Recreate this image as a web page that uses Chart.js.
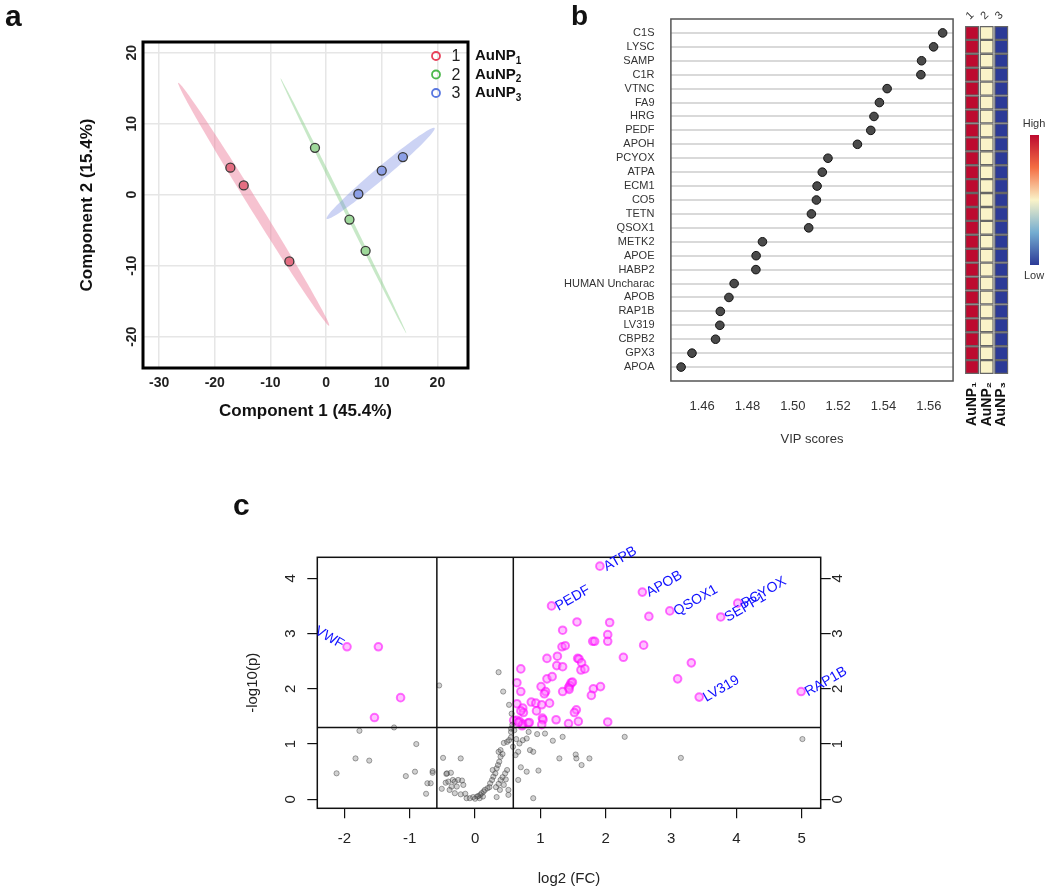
<!DOCTYPE html>
<html>
<head>
<meta charset="utf-8">
<script src="https://cdn.jsdelivr.net/npm/chart.js@4"></script>
<style>
  body { margin: 0; background: #fff; width: 1050px; height: 895px; position: relative; overflow: hidden;
         font-family: 'Liberation Sans', Arial, sans-serif; }
  canvas { position: absolute; }
  .bar { position: absolute; left: 1030px; top: 135px; width: 9px; height: 130px;
         background: linear-gradient(to bottom, #BD0A2F, #F46D43 25%, #FAF3C8 50%, #74ADD1 75%, #2C3A97); }
  .barlab { position: absolute; left: 1014px; width: 40px; text-align: center; font-size: 11px; color: #333; }
</style>
</head>
<body>
<canvas id="pca" width="560" height="450" style="left:0;top:0"></canvas>
<canvas id="vip" width="480" height="470" style="left:480px;top:0"></canvas>
<canvas id="heat" width="110" height="470" style="left:940px;top:0"></canvas>
<canvas id="volcano" width="640" height="405" style="left:230px;top:490px"></canvas>
<div class="barlab" style="top:117px">High</div>
<div class="bar"></div>
<div class="barlab" style="top:269px">Low</div>
<script>
// ---- datos panel a (PLS-DA) ----
const pcaGroups = ['1', '2', '3'];
const pcaNames = ['AuNP', 'AuNP', 'AuNP'];
const comp1G1 = [-17.2, -14.8, -6.6];
const comp2G1 = [3.8, 1.3, -9.4];
const comp1G2 = [-2.0, 4.2, 7.1];
const comp2G2 = [6.6, -3.5, -7.9];
const comp1G3 = [5.8, 10.0, 13.8];
const comp2G3 = [0.1, 3.4, 5.3];
const pcaXTicks = [-30, -20, -10, 0, 10, 20];
const pcaYTicks = [-20, -10, 0, 10, 20];
// elipses: centro, semieje mayor y semieje menor (unidades de datos)
const ellipseCx = [-13.0, 3.1, 9.8];
const ellipseCy = [-1.35, -1.55, 3.0];
const ellipseAx = [13.55, 11.3, 9.7];
const ellipseAy = [-17.1, -17.95, 6.4];
const ellipseBx = [0.77, 0.29, 0.69];
const ellipseBy = [0.37, 0.11, -0.65];

// ---- datos panel b (VIP) ----
const vipProteins = ['C1S', 'LYSC', 'SAMP', 'C1R', 'VTNC', 'FA9', 'HRG', 'PEDF', 'APOH', 'PCYOX', 'ATPA', 'ECM1', 'CO5',
  'TETN', 'QSOX1', 'METK2', 'APOE', 'HABP2', 'HUMAN Uncharac', 'APOB', 'RAP1B', 'LV319', 'CBPB2', 'GPX3', 'APOA'];
const vipScores = [1.5661, 1.5621, 1.5568, 1.5565, 1.5416, 1.5382, 1.5358, 1.5344, 1.5285, 1.5155, 1.5130, 1.5107, 1.5104,
  1.5082, 1.5070, 1.4866, 1.4838, 1.4837, 1.4741, 1.4718, 1.4680, 1.4678, 1.4659, 1.4555, 1.4507];
const vipTicks = [1.46, 1.48, 1.50, 1.52, 1.54, 1.56];
const heatGroups = ['AuNP\u2081', 'AuNP\u2082', 'AuNP\u2083'];
const heatAuNP1 = [1, 1, 1, 1, 1, 1, 1, 1, 1, 1, 1, 1, 1, 1, 1, 1, 1, 1, 1, 1, 1, 1, 1, 1, 1];
const heatAuNP2 = [0.5, 0.5, 0.5, 0.5, 0.5, 0.5, 0.5, 0.5, 0.5, 0.5, 0.5, 0.5, 0.5, 0.5, 0.5, 0.5, 0.5, 0.5, 0.5, 0.5, 0.5, 0.5, 0.5, 0.5, 0.5];
const heatAuNP3 = [0, 0, 0, 0, 0, 0, 0, 0, 0, 0, 0, 0, 0, 0, 0, 0, 0, 0, 0, 0, 0, 0, 0, 0, 0];

// ---- datos panel c (volcano) ----
const fcTicks = [-2, -1, 0, 1, 2, 3, 4, 5];
const pTicks = [0, 1, 2, 3, 4];
const fcCut = [-0.585, 0.585];
const pCut = 1.3;
const sigX = [-1.96, -1.48, -1.14, -1.54, 1.91, 1.17, 2.56, 2.98, 3.76, 4.02, 3.43, 4.99,
  2.66, 1.56, 2.06, 1.34, 2.03, 1.80, 1.83, 2.03, 1.33, 1.38, 2.58, 1.26, 1.10, 1.57, 1.59, 1.63,
  2.27, 3.31, 0.70, 1.25, 1.34, 1.62, 1.68, 1.10, 1.18, 3.10, 0.64, 1.47, 1.45, 1.49, 1.43, 1.44, 1.01,
  1.08, 1.06, 0.70, 1.34, 1.81, 1.92, 1.78, 0.64, 0.73, 0.74, 0.70, 0.86, 0.93, 1.02, 1.14, 0.94,
  1.55, 1.52, 0.59, 0.64, 0.68, 0.72, 0.73, 0.81, 0.83, 1.03, 1.04, 1.24, 1.43, 1.58, 2.03, 1.02, 0.66];
const sigY = [2.76, 2.76, 1.84, 1.48, 4.22, 3.50, 3.75, 3.41, 3.30, 3.55, 1.85, 1.95,
  3.31, 3.21, 3.20, 3.06, 2.98, 2.86, 2.86, 2.86, 2.76, 2.78, 2.79, 2.59, 2.55, 2.55, 2.54, 2.47,
  2.57, 2.47, 2.36, 2.42, 2.40, 2.34, 2.36, 2.18, 2.22, 2.18, 2.11, 2.11, 2.06, 2.12, 2.02, 1.99, 2.04,
  1.95, 1.91, 1.95, 1.95, 2.00, 2.04, 1.88, 1.73, 1.65, 1.57, 1.60, 1.76, 1.74, 1.71, 1.74, 1.60,
  1.62, 1.57, 1.43, 1.43, 1.41, 1.33, 1.36, 1.38, 1.39, 1.47, 1.44, 1.44, 1.37, 1.41, 1.40, 1.35, 1.39];
const sigLabels = ['VWF', '', '', '', 'ATPB', 'PEDF', 'APOB', 'QSOX1', 'SEPP1', 'PCYOX', 'LV319', 'RAP1B'];
const greyX = [-1.77, -1.24, -0.90, -1.83, -1.62, -2.12, -0.92, -1.06, -0.65, -0.65,
  -0.49, -0.73, -0.68, -0.75, -0.44, -0.45, -0.51, -0.55, 0.36, 0.43,
  0.52, -0.22, -0.43, -0.37, -0.41, -0.34, -0.31, -0.26, -0.20, -0.18,
  -0.28, -0.36, -0.39, -0.31, -0.22, -0.15, -0.13, -0.08, -0.03, 0.03,
  0.05, 0.08, 0.10, 0.13, 0.12, 0.07, 0.00, 0.15, 0.19, 0.22,
  0.23, 0.26, 0.28, 0.31, 0.27, 0.33, 0.35, 0.37, 0.39, 0.36,
  0.39, 0.42, 0.44, 0.49, 0.52, 0.55, 0.55, 0.49, 0.51, 0.51,
  0.33, 0.46, 0.42, 0.39, 0.36, 0.47, 0.44, 0.38, 0.32, 0.63,
  0.68, 0.73, 0.79, 0.82, 0.84, 0.89, 0.95, 1.07, 0.66, 0.70,
  0.66, 0.79, 0.97, 0.89, 1.19, 1.29, 1.34, 2.29, 5.01, 1.54,
  1.55, 1.75, 1.63, 3.15, 0.56, 0.57, 0.55, 0.60, 0.58, 0.62];
const greyY = [1.24, 1.30, 1.00, 0.74, 0.70, 0.47, 0.50, 0.42, 0.51, 0.48,
  0.75, 0.29, 0.29, 0.10, 0.46, 0.30, 0.19, 2.06, 2.30, 1.95,
  1.71, 0.74, 0.47, 0.48, 0.32, 0.35, 0.32, 0.35, 0.34, 0.26,
  0.23, 0.23, 0.17, 0.11, 0.09, 0.10, 0.02, 0.02, 0.04, 0.05,
  0.06, 0.08, 0.11, 0.14, 0.05, 0.02, 0.01, 0.17, 0.20, 0.22,
  0.29, 0.35, 0.41, 0.47, 0.53, 0.56, 0.62, 0.68, 0.77, 0.86,
  0.89, 0.82, 1.02, 1.04, 1.07, 1.22, 1.12, 0.53, 0.17, 0.08,
  0.04, 0.47, 0.40, 0.35, 0.28, 0.36, 0.26, 0.17, 0.22, 1.09,
  1.01, 1.07, 1.10, 1.22, 0.89, 0.86, 1.18, 1.19, 0.86, 0.58,
  0.35, 0.50, 0.52, 0.02, 1.06, 0.74, 1.13, 1.13, 1.09, 0.81,
  0.74, 0.74, 0.62, 0.75, 1.55, 1.35, 1.28, 1.25, 0.95, 0.80];

const FONT = "'Liberation Sans', Arial, sans-serif";
Chart.defaults.font.family = FONT;
Chart.defaults.color = '#222';
Chart.defaults.animation = false;
Chart.defaults.plugins.legend.display = false;
Chart.defaults.plugins.tooltip.enabled = false;

const fixWidth = (w) => (s) => { s.width = w; };
const fixHeight = (h) => (s) => { s.height = h; };
const setTicks = (vals) => (s) => { s.ticks = vals.map((v) => ({ value: v })); };

function panelTag(letter, x, y, size) {
  return {
    id: 'tag' + letter,
    afterDraw(chart) {
      const c = chart.ctx;
      c.save();
      c.font = `bold ${size}px ${FONT}`;
      c.fillStyle = '#111';
      c.fillText(letter, x, y);
      c.restore();
    },
  };
}

function boxPlugin(color, width) {
  return {
    id: 'box',
    afterDraw(chart) {
      const { ctx, chartArea: a } = chart;
      ctx.save();
      ctx.strokeStyle = color;
      ctx.lineWidth = width;
      ctx.strokeRect(a.left, a.top, a.right - a.left, a.bottom - a.top);
      ctx.restore();
    },
  };
}

// ---- Panel a ----
const pcaFill = ['#E46E82', '#9ED89A', '#8C9FE6'];
const pcaEdge = ['#E8405A', '#4CB84C', '#5A78E0'];
const pcaBand = ['rgba(236,120,150,0.45)', 'rgba(130,205,130,0.45)', 'rgba(120,140,225,0.38)'];
const comp1 = [comp1G1, comp1G2, comp1G3];
const comp2 = [comp2G1, comp2G2, comp2G3];

const ellipsePlugin = {
  id: 'ellipses',
  beforeDatasetsDraw(chart) {
    const { ctx, scales: { x, y } } = chart;
    ctx.save();
    ellipseCx.forEach((cx, i) => {
      ctx.beginPath();
      for (let k = 0; k <= 90; k++) {
        const t = (k / 90) * Math.PI * 2;
        const vx = cx + ellipseAx[i] * Math.cos(t) + ellipseBx[i] * Math.sin(t);
        const vy = ellipseCy[i] + ellipseAy[i] * Math.cos(t) + ellipseBy[i] * Math.sin(t);
        const px = x.getPixelForValue(vx);
        const py = y.getPixelForValue(vy);
        if (k === 0) ctx.moveTo(px, py); else ctx.lineTo(px, py);
      }
      ctx.closePath();
      ctx.fillStyle = pcaBand[i];
      ctx.fill();
    });
    ctx.restore();
  },
};

const pcaLegend = {
  id: 'pcaLegend',
  afterDraw(chart) {
    const { ctx, chartArea: a } = chart;
    ctx.save();
    pcaGroups.forEach((g, i) => {
      const yy = a.top + 14 + i * 18.5;
      ctx.beginPath();
      ctx.arc(a.right - 32, yy, 4, 0, Math.PI * 2);
      ctx.strokeStyle = pcaEdge[i];
      ctx.lineWidth = 1.8;
      ctx.stroke();
      ctx.fillStyle = '#222';
      ctx.font = `16px ${FONT}`;
      ctx.textAlign = 'center';
      ctx.textBaseline = 'middle';
      ctx.fillText(g, a.right - 12, yy + 1);
      ctx.textAlign = 'left';
      ctx.font = `bold 15px ${FONT}`;
      ctx.fillStyle = '#111';
      ctx.fillText(pcaNames[i], a.right + 7, yy);
      const w = ctx.measureText(pcaNames[i]).width;
      ctx.font = `bold 10px ${FONT}`;
      ctx.fillText(g, a.right + 7 + w, yy + 5);
    });
    ctx.restore();
  },
};

new Chart(document.getElementById('pca'), {
  type: 'scatter',
  data: {
    datasets: pcaGroups.map((g, i) => ({
      label: g,
      data: comp1[i].map((v, j) => ({ x: v, y: comp2[i][j] })),
      backgroundColor: pcaFill[i],
      borderColor: '#3a3a3a',
      borderWidth: 1.3,
      pointRadius: 4.5,
    })),
  },
  options: {
    responsive: false,
    layout: { padding: { left: 68, right: 92, top: 42, bottom: 20 } },
    scales: {
      x: {
        type: 'linear', min: -32.9, max: 25.5,
        afterBuildTicks: setTicks(pcaXTicks), afterFit: fixHeight(62),
        grid: { color: '#E6E6E6', lineWidth: 1.5, drawTicks: false },
        border: { display: false },
        ticks: { padding: 7, font: { size: 14, weight: 'bold' }, color: '#222' },
        title: { display: true, text: 'Component 1 (45.4%)', font: { size: 17, weight: 'bold' }, color: '#111', padding: { bottom: 8 } },
      },
      y: {
        type: 'linear', min: -24.4, max: 21.5,
        afterBuildTicks: setTicks(pcaYTicks), afterFit: fixWidth(75),
        grid: { color: '#E6E6E6', lineWidth: 1.5, drawTicks: false },
        border: { display: false },
        ticks: { padding: 1, minRotation: 90, maxRotation: 90, crossAlign: 'center', font: { size: 14, weight: 'bold' }, color: '#222' },
        title: { display: true, text: 'Component 2 (15.4%)', font: { size: 17, weight: 'bold' }, color: '#111', padding: { top: 9 } },
      },
    },
  },
  plugins: [ellipsePlugin, boxPlugin('#000', 3), pcaLegend, panelTag('a', 5, 26, 30)],
});

// ---- Panel b ----
const rowTicks = vipProteins.map((p, i) => i);

new Chart(document.getElementById('vip'), {
  type: 'scatter',
  data: {
    datasets: [{
      data: vipScores.map((v, i) => ({ x: v, y: i })),
      backgroundColor: '#4a4a4a', borderColor: '#111', borderWidth: 1, pointRadius: 4.3,
    }],
  },
  options: {
    responsive: false,
    layout: { padding: { left: 0, right: 6.2, top: 19, bottom: 10 } },
    scales: {
      x: {
        type: 'linear', min: 1.4462, max: 1.5707,
        afterBuildTicks: setTicks(vipTicks), afterFit: fixHeight(79),
        grid: { display: false, drawTicks: false }, border: { display: false },
        ticks: { padding: 18, font: { size: 13 }, color: '#333', callback: (v) => v.toFixed(2) },
        title: { display: true, text: 'VIP scores', font: { size: 13 }, color: '#333', padding: { bottom: 13 } },
      },
      y: {
        type: 'linear', reverse: true, min: -1, max: 25,
        afterBuildTicks: setTicks(rowTicks),
        afterFit: (s) => { s.width = 190.9; s.paddingTop = 0; s.paddingBottom = 0; },
        grid: { color: '#D9D9D9', lineWidth: 2, drawTicks: false }, border: { display: false },
        ticks: { autoSkip: false, padding: 16.4, font: { size: 11 }, color: '#333', callback: (v) => vipProteins[v] },
      },
    },
  },
  plugins: [boxPlugin('#555', 1.5), panelTag('b', 91, 25, 28)],
});

// ---- heatmap ----
const heatStops = [[0, [44, 58, 151]], [0.25, [116, 173, 209]], [0.5, [250, 243, 200]], [0.75, [244, 109, 67]], [1, [189, 10, 47]]];
function heatColor(v) {
  for (let k = 1; k < heatStops.length; k++) {
    const [v1, c1] = heatStops[k];
    const [v0, c0] = heatStops[k - 1];
    if (v <= v1) {
      const f = (v - v0) / (v1 - v0);
      const c = c0.map((ch, j) => Math.round(ch + (c1[j] - ch) * f));
      return `rgb(${c[0]},${c[1]},${c[2]})`;
    }
  }
  return 'rgb(189,10,47)';
}
const heatLevels = [heatAuNP1, heatAuNP2, heatAuNP3];

const heatHeader = {
  id: 'heatHeader',
  afterDraw(chart) {
    const { ctx, scales: { x } } = chart;
    ctx.save();
    ctx.font = `11px ${FONT}`;
    ctx.fillStyle = '#333';
    pcaGroups.forEach((g, i) => {
      ctx.save();
      ctx.translate(x.getPixelForValue(i + 1) - 2, 20);
      ctx.rotate(-Math.PI / 4);
      ctx.fillText(g, 0, 0);
      ctx.restore();
    });
    ctx.restore();
  },
};

new Chart(document.getElementById('heat'), {
  type: 'scatter',
  data: {
    datasets: heatLevels.map((lv, g) => ({
      data: lv.map((v, i) => ({ x: g + 1, y: i })),
      backgroundColor: lv.map(heatColor),
      borderColor: '#666', borderWidth: 1.2, pointStyle: 'rect', pointRadius: 9,
    })),
  },
  options: {
    responsive: false,
    layout: { padding: { left: 24.7, right: 41.4, top: 19, bottom: 10 } },
    scales: {
      x: {
        type: 'linear', min: 0.5, max: 3.5,
        afterBuildTicks: setTicks([1, 2, 3]), afterFit: fixHeight(79),
        grid: { display: false, drawTicks: false }, border: { display: false },
        ticks: { padding: 1, minRotation: 90, maxRotation: 90, font: { size: 14, weight: 'bold' }, color: '#111', callback: (v) => heatGroups[v - 1] },
      },
      y: { display: false, type: 'linear', reverse: true, min: -1, max: 25 },
    },
  },
  plugins: [heatHeader],
});

// ---- Panel c ----
const thresholdPlugin = {
  id: 'thresholds',
  afterDatasetsDraw(chart) {
    const { ctx, chartArea: a, scales: { x, y } } = chart;
    ctx.save();
    ctx.strokeStyle = '#111';
    ctx.lineWidth = 1.5;
    ctx.beginPath();
    fcCut.forEach((v) => {
      const px = x.getPixelForValue(v);
      ctx.moveTo(px, a.top);
      ctx.lineTo(px, a.bottom);
    });
    const py = y.getPixelForValue(pCut);
    ctx.moveTo(a.left, py);
    ctx.lineTo(a.right, py);
    ctx.stroke();
    ctx.restore();
  },
};

const labelPlugin = {
  id: 'pointLabels',
  afterDraw(chart) {
    const { ctx, scales: { x, y } } = chart;
    ctx.save();
    ctx.font = `14px ${FONT}`;
    ctx.fillStyle = '#1010FF';
    sigLabels.forEach((name, i) => {
      if (!name) return;
      const px = x.getPixelForValue(sigX[i]);
      const py = y.getPixelForValue(sigY[i]);
      ctx.save();
      if (sigX[i] < 0) {
        ctx.translate(px - 6, py + 2);
        ctx.rotate(Math.PI / 6);
        ctx.textAlign = 'right';
      } else {
        ctx.translate(px + 7, py + 5);
        ctx.rotate(-Math.PI / 6);
        ctx.textAlign = 'left';
      }
      ctx.fillText(name, 0, 0);
      ctx.restore();
    });
    ctx.restore();
  },
};

const volcanoAxis = (extra) => Object.assign({
  type: 'linear', min: -0.163, max: 4.38,
  afterBuildTicks: setTicks(pTicks),
  grid: { drawOnChartArea: false, color: '#111', lineWidth: 1.2, tickLength: 10 },
  border: { display: false },
}, extra);

new Chart(document.getElementById('volcano'), {
  type: 'scatter',
  data: {
    datasets: [
      {
        data: greyX.map((v, i) => ({ x: v, y: greyY[i] })),
        backgroundColor: 'rgba(90,90,90,0.28)', borderColor: 'rgba(60,60,60,0.45)', borderWidth: 1, pointRadius: 2.6,
      },
      {
        data: sigX.map((v, i) => ({ x: v, y: sigY[i] })),
        backgroundColor: 'rgba(255,120,255,0.45)', borderColor: 'rgba(255,0,255,0.55)', borderWidth: 2, pointRadius: 3.8,
      },
    ],
  },
  options: {
    responsive: false,
    layout: { padding: { left: 5, right: 10, top: 67.3, bottom: 5 } },
    scales: {
      x: {
        type: 'linear', min: -2.415, max: 5.29,
        afterBuildTicks: setTicks(fcTicks), afterFit: fixHeight(81.7),
        grid: { drawOnChartArea: false, color: '#111', lineWidth: 1.2, tickLength: 10 },
        border: { display: false },
        ticks: { padding: 12, font: { size: 15 }, color: '#222' },
        title: { display: true, text: 'log2 (FC)', font: { size: 15 }, color: '#222', padding: { bottom: 2 } },
      },
      y: volcanoAxis({
        position: 'left', afterFit: fixWidth(82.3),
        ticks: { padding: 12, minRotation: 90, maxRotation: 90, crossAlign: 'center', font: { size: 15 }, color: '#222' },
        title: { display: true, text: '-log10(p)', font: { size: 15 }, color: '#222', padding: { top: 9 } },
      }),
      y2: volcanoAxis({
        position: 'right', afterFit: fixWidth(39.3),
        ticks: { padding: 3, minRotation: 90, maxRotation: 90, crossAlign: 'center', font: { size: 15 }, color: '#222' },
      }),
    },
  },
  plugins: [thresholdPlugin, boxPlugin('#111', 1.5), labelPlugin, panelTag('c', 3, 25, 30)],
});
</script>
</body>
</html>
